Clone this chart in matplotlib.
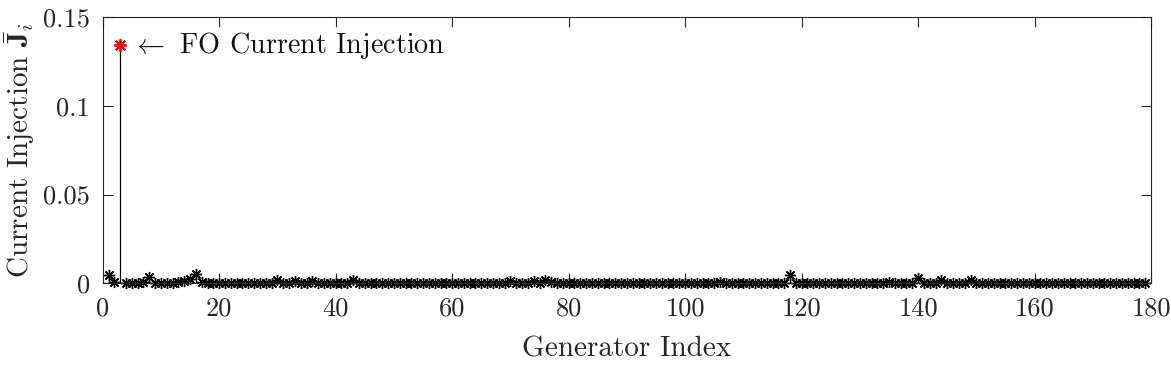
import numpy as np
import matplotlib
matplotlib.use("Agg")
import matplotlib.pyplot as plt
from matplotlib.ticker import FixedLocator, FuncFormatter

plt.rcParams['font.family'] = 'serif'
plt.rcParams['font.serif'] = ['cmr10', 'DejaVu Serif']
plt.rcParams['mathtext.fontset'] = 'cm'
plt.rcParams['axes.unicode_minus'] = False
plt.rcParams['axes.formatter.use_mathtext'] = True

# ---- data ----
gen_index = np.arange(1, 180)
current_injection = [
    0.0045, 0.0010, 0.1340, 0.0002, 0.0002, 0.0002, 0.0005, 0.0035, 0.0002, 0.0002,
    0.0002, 0.0002, 0.0005, 0.0015, 0.0025, 0.0050, 0.0010, 0.0002, 0.0002, 0.0002,
    0.0002, 0.0002, 0.0002, 0.0002, 0.0002, 0.0002, 0.0002, 0.0002, 0.0002, 0.0020,
    0.0002, 0.0002, 0.0015, 0.0002, 0.0002, 0.0015, 0.0002, 0.0002, 0.0002, 0.0002,
    0.0002, 0.0002, 0.0020, 0.0002, 0.0002, 0.0002, 0.0002, 0.0002, 0.0002, 0.0002,
    0.0002, 0.0002, 0.0002, 0.0002, 0.0002, 0.0002, 0.0002, 0.0002, 0.0002, 0.0002,
    0.0002, 0.0002, 0.0002, 0.0002, 0.0002, 0.0002, 0.0002, 0.0002, 0.0002, 0.0012,
    0.0002, 0.0002, 0.0002, 0.0012, 0.0002, 0.0020, 0.0010, 0.0002, 0.0002, 0.0002,
    0.0002, 0.0002, 0.0002, 0.0002, 0.0002, 0.0002, 0.0002, 0.0002, 0.0002, 0.0002,
    0.0002, 0.0002, 0.0002, 0.0002, 0.0002, 0.0002, 0.0002, 0.0002, 0.0002, 0.0002,
    0.0002, 0.0002, 0.0002, 0.0002, 0.0002, 0.0008, 0.0002, 0.0002, 0.0002, 0.0002,
    0.0002, 0.0002, 0.0002, 0.0002, 0.0002, 0.0002, 0.0002, 0.0047, 0.0002, 0.0002,
    0.0002, 0.0002, 0.0002, 0.0002, 0.0002, 0.0002, 0.0002, 0.0002, 0.0002, 0.0002,
    0.0002, 0.0002, 0.0002, 0.0002, 0.0008, 0.0002, 0.0002, 0.0002, 0.0002, 0.0030,
    0.0002, 0.0002, 0.0002, 0.0020, 0.0002, 0.0002, 0.0002, 0.0002, 0.0020, 0.0002,
    0.0002, 0.0002, 0.0002, 0.0002, 0.0002, 0.0002, 0.0002, 0.0002, 0.0002, 0.0002,
    0.0002, 0.0002, 0.0002, 0.0002, 0.0002, 0.0002, 0.0002, 0.0002, 0.0002, 0.0002,
    0.0002, 0.0002, 0.0002, 0.0002, 0.0002, 0.0002, 0.0002, 0.0002, 0.0002,
]
fo_generator = 3
x_ticks = [0, 20, 40, 60, 80, 100, 120, 140, 160, 180]
y_ticks = [0, 0.05, 0.1, 0.15]
annotation_text = r'$\leftarrow$ FO Current Injection'
xlabel_text = 'Generator Index'
ylabel_text = r'Current Injection $\bar{\mathbf{J}}_i$'

# ---- figure ----
fig = plt.figure(figsize=(11.71, 3.65), dpi=100)
ax = fig.add_axes([0.0877, 0.2238, 0.8953, 0.7296])

axis_color = '#262626'
asterisk = (8, 2, 0)

markerline, stemlines, baseline = ax.stem(gen_index, current_injection,
                                          linefmt='k-', basefmt='k-')
plt.setp(stemlines, linewidth=0.9, color='k')
markerline.set_marker(asterisk)
markerline.set_markersize(8)
markerline.set_markeredgewidth(1.0)
markerline.set_color('k')
markerline.set_linestyle('none')
markerline.set_clip_on(False)
baseline.set_xdata([0, 180])
baseline.set_linewidth(0.9)

fo_val = current_injection[fo_generator - 1]
ax.plot([fo_generator], [fo_val], linestyle='none', marker=asterisk,
        markersize=9.5, markeredgewidth=1.2, color='red', zorder=5)
ax.text(fo_generator + 2.0, fo_val, annotation_text, fontsize=20.3,
        va='center', ha='left', color='#111111')

ax.set_xlim(0, 180)
ax.set_ylim(0, 0.15)
ax.xaxis.set_major_locator(FixedLocator(x_ticks))
ax.yaxis.set_major_locator(FixedLocator(y_ticks))
ax.yaxis.set_major_formatter(FuncFormatter(lambda v, p: '%g' % v))
ax.xaxis.set_major_formatter(FuncFormatter(lambda v, p: '%g' % v))

ax.tick_params(direction='in', length=7, width=0.8, colors=axis_color,
               labelsize=19, top=True, right=True, labelcolor='#262626')
ax.tick_params(axis='y', pad=9)
ax.tick_params(axis='x', pad=10)
for sp in ax.spines.values():
    sp.set_color(axis_color)
    sp.set_linewidth(0.8)

ax.set_xlabel(xlabel_text, fontsize=21, color='#262626', labelpad=11)
ax.set_ylabel(ylabel_text, fontsize=21, color='#262626')
ax.yaxis.set_label_coords(-0.0625, 0.5)

fig.savefig('out.png', dpi=100)
